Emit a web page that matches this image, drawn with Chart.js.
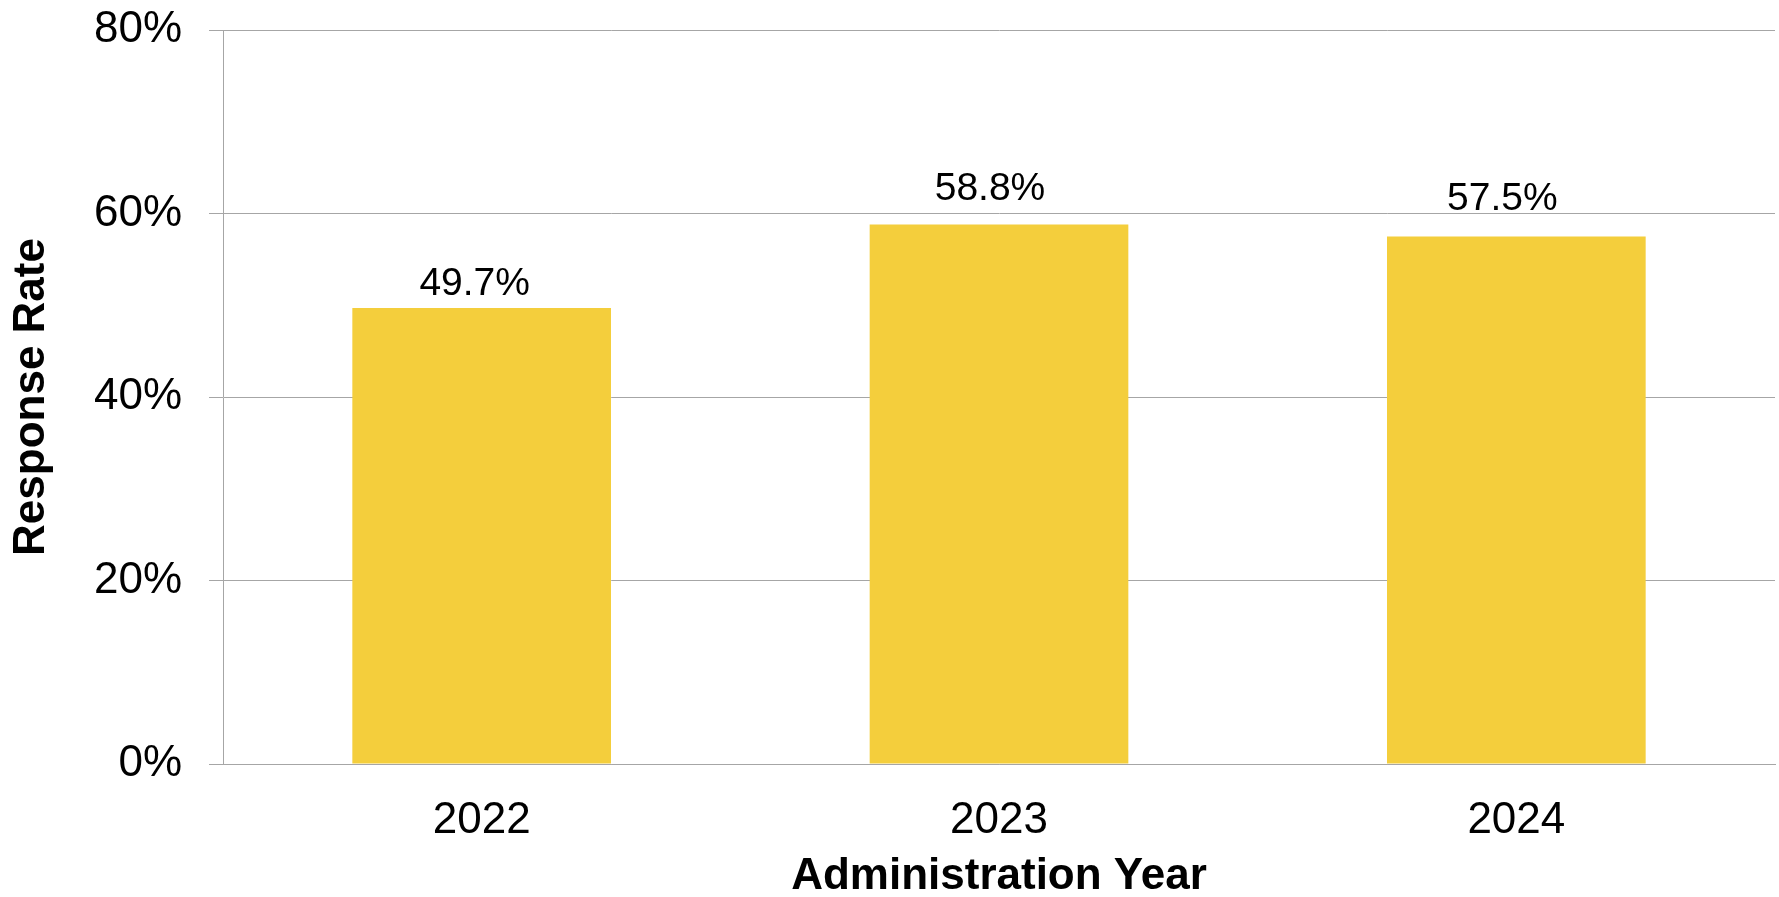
<!DOCTYPE html>
<html>
<head>
<meta charset="utf-8">
<script src="https://cdn.jsdelivr.net/npm/chart.js@4"></script>
<style>
  html, body { margin: 0; padding: 0; background: #fff; }
  #wrap { width: 1779px; height: 897px; }
</style>
</head>
<body>
<div id="wrap"><canvas id="rateChart"></canvas></div>
<script>
const years = ['2022', '2023', '2024'];
const responseRate = [49.7, 58.8, 57.5];
const rateTicks = [0, 20, 40, 60, 80];

const gridColor = '#a6a6a6';
const fontFamily = '"Liberation Sans", Arial, sans-serif';

// label nudges so the text clears the 60% gridline
const labelShiftX = [-7, -9, -14];
const labelLift = [13, 25, 26];

// draws the value above each bar
const barLabels = {
	id: 'barLabels',
	afterDatasetsDraw(chart) {
		const c = chart.ctx;
		const meta = chart.getDatasetMeta(0);
		c.save();
		c.font = '39px ' + fontFamily;
		c.fillStyle = '#000';
		c.textAlign = 'center';
		c.textBaseline = 'alphabetic';
		meta.data.forEach((bar, i) => {
			c.fillText(responseRate[i].toFixed(1) + '%', bar.x + labelShiftX[i], bar.y - labelLift[i]);
		});
		c.restore();
	},
};

let ctx = document.getElementById('rateChart').getContext('2d');

let rateChart = new Chart(ctx, {
	type: 'bar',
	data: {
		labels: years,
		datasets: [
			{
				label: 'Response Rate',
				data: responseRate,
				backgroundColor: 'rgb(244,206,60)',
				borderWidth: 0,
				barPercentage: 0.5,
				categoryPercentage: 1,
			},
		],
	},
	options: {
		responsive: true,
		maintainAspectRatio: false,
		animation: false,
		layout: {
			padding: { top: 30, right: 4, left: 0, bottom: 0 },
		},
		plugins: {
			legend: { display: false },
			tooltip: { enabled: false },
		},
		scales: {
			x: {
				grid: { display: false, drawTicks: false },
				border: { display: true, color: gridColor, width: 1 },
				ticks: {
					color: '#000',
					padding: 30,
					font: { family: fontFamily, size: 44 },
				},
				title: {
					display: true,
					text: 'Administration Year',
					color: '#000',
					padding: { top: 0, bottom: -2 },
					font: { family: fontFamily, size: 44, weight: 'bold', lineHeight: 1.0 },
				},
				afterFit(axis) {
					axis.height = 133;
					axis.paddingLeft = 0;
					axis.paddingRight = 0;
				},
			},
			y: {
				min: 0,
				max: 80,
				afterBuildTicks(axis) {
					axis.ticks = rateTicks.map(v => ({ value: v }));
				},
				grid: { color: gridColor, lineWidth: 1, tickLength: 14 },
				border: { display: true, color: gridColor, width: 1 },
				ticks: {
					color: '#000',
					padding: 27,
					font: { family: fontFamily, size: 44 },
					callback: v => v + '%',
				},
				title: {
					display: true,
					text: 'Response Rate',
					color: '#000',
					padding: { top: 5, bottom: 0 },
					font: { family: fontFamily, size: 44, weight: 'bold' },
				},
				afterFit(axis) {
					axis.width = 223;
					axis.paddingTop = 0;
					axis.paddingBottom = 0;
				},
			},
		},
	},
	plugins: [barLabels],
});
</script>
</body>
</html>
